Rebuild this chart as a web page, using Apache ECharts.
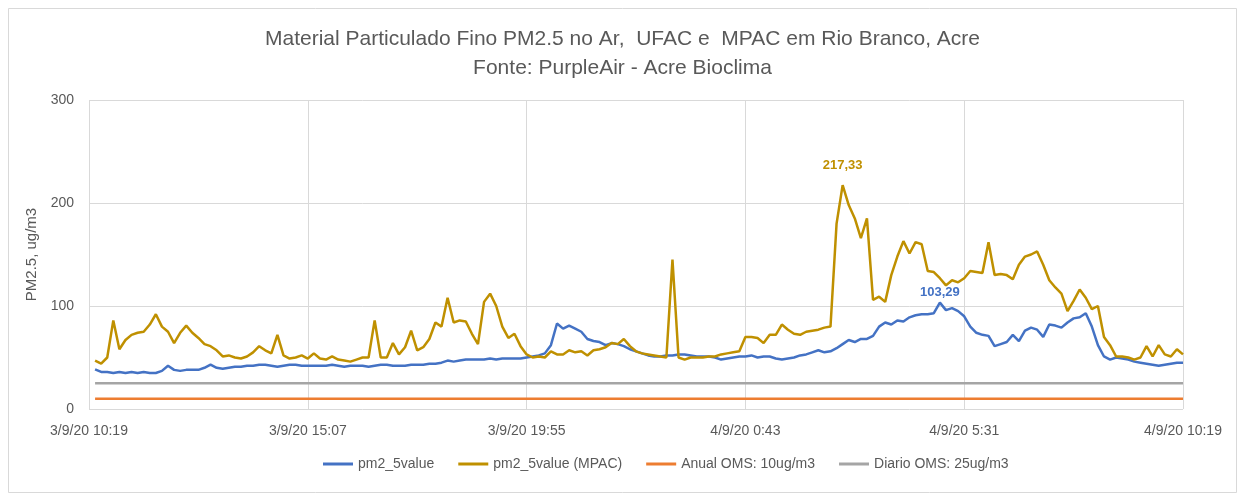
<!DOCTYPE html>
<html>
<head>
<meta charset="utf-8">
<script src="https://cdn.jsdelivr.net/npm/echarts@6/dist/echarts.min.js"></script>
<style>
  html, body { margin: 0; padding: 0; background: #fff; }
  #main { width: 1245px; height: 500px; }
</style>
</head>
<body>
<div id="main"></div>
<script>
// eixo x em minutos desde 3/9/20 10:19
var tickLabels = ['3/9/20 10:19', '3/9/20 15:07', '3/9/20 19:55', '4/9/20 0:43', '4/9/20 5:31', '4/9/20 10:19'];

var minutes = [
  8, 16, 24, 32, 40, 48, 56, 64, 72, 80, 88, 96, 104, 112, 120, 128, 136, 144, 152, 160,
  168, 176, 184, 192, 200, 208, 216, 224, 232, 240, 248, 256, 264, 272, 280, 288, 296, 304, 312, 320,
  328, 336, 344, 352, 360, 368, 376, 384, 392, 400, 408, 416, 424, 432, 440, 448, 456, 464, 472, 480,
  488, 496, 504, 512, 520, 528, 536, 544, 552, 560, 568, 576, 584, 592, 600, 608, 616, 624, 632, 640,
  648, 656, 664, 672, 680, 688, 696, 704, 712, 720, 728, 736, 744, 752, 760, 768, 776, 784, 792, 800,
  808, 816, 824, 832, 840, 848, 856, 864, 872, 880, 888, 896, 904, 912, 920, 928, 936, 944, 952, 960,
  968, 976, 984, 992, 1000, 1008, 1016, 1024, 1032, 1040, 1048, 1056, 1064, 1072, 1080, 1088, 1096, 1104, 1112, 1120,
  1128, 1136, 1144, 1152, 1160, 1168, 1176, 1184, 1192, 1200, 1208, 1216, 1224, 1232, 1240, 1248, 1256, 1264, 1272, 1280,
  1288, 1296, 1304, 1312, 1320, 1328, 1336, 1344, 1352, 1360, 1368, 1376, 1384, 1392, 1400, 1408, 1416, 1424, 1432, 1440
];

// pm2_5value (UFAC)
var ufac = [
  38.5, 36, 36, 35, 36, 35, 36, 35, 36, 35, 35, 37, 42, 38, 37, 38, 38, 38, 40, 43,
  40, 39, 40, 41, 41, 42, 42, 43, 43, 42, 41, 42, 43, 43, 42, 42, 42, 42, 42, 43,
  42, 41, 42, 42, 42, 41, 42, 43, 43, 42, 42, 42, 43, 43, 43, 44, 44, 45, 47, 46,
  47, 48, 48, 48, 48, 49, 48, 49, 49, 49, 49, 50, 51, 52, 54, 62, 83, 78, 81, 78,
  75, 68, 66, 65, 62, 64, 63, 61, 58, 56, 54, 52, 51, 51, 52, 52, 53, 53, 52, 51,
  51, 51, 50, 48, 49, 50, 51, 51, 52, 50, 51, 51, 49, 48, 49, 50, 52, 53, 55, 57,
  55, 56, 59, 63, 67, 65, 68, 68, 71, 80, 84, 82, 86, 85, 89, 91, 92, 92, 93, 103.29,
  96, 98, 95, 90, 80, 74, 72, 71, 61, 63, 65, 72, 66, 76, 79, 77, 70, 82, 81, 79,
  84, 88, 89, 93, 80, 62, 51, 48, 50, 49, 48, 46, 45, 44, 43, 42, 43, 44, 45, 45
];

// pm2_5value (MPAC)
var mpac = [
  47, 44, 50, 86, 58, 67, 72, 74, 75, 82, 92, 80, 75, 64, 74, 81, 74, 69, 63, 61,
  57, 51, 52, 50, 49, 51, 55, 61, 57, 54, 72, 52, 49, 50, 52, 49, 54, 49, 48, 51,
  48, 47, 46, 48, 50, 50, 86, 50, 50, 64, 53, 60, 76, 57, 60, 68, 84, 80, 108, 84,
  86, 85, 73, 63, 104, 112, 100, 80, 69, 73, 61, 53, 50, 51, 50, 56, 53, 53, 57, 55,
  56, 52, 57, 58, 60, 64, 63, 68, 61, 56, 54, 53, 52, 51, 50, 145, 50, 48, 50, 50,
  50, 51, 51, 53, 54, 55, 56, 70, 70, 69, 64, 72, 72, 82, 77, 73, 72, 75, 76, 77,
  79, 80, 180, 217.33, 198, 185, 166, 185, 106, 109, 104, 130, 148, 163, 151, 162, 160, 134, 133, 127,
  120, 125, 123, 127, 134, 133, 132, 162, 130, 131, 130, 126, 140, 148, 150, 153, 140, 125, 118, 112,
  95, 105, 116, 108, 97, 100, 70, 62, 51, 51, 50, 48, 50, 61, 51, 62, 53, 51, 58, 53
];

// limites OMS
var limitMinutes = [8, 1440];
var anualOMS = [10, 10];
var diarioOMS = [25, 25];

function pairs(xs, ys) {
  return xs.map(function (x, i) { return [x, ys[i]]; });
}

function maxLabel(color, dist) {
  return {
    symbol: 'circle',
    symbolSize: 0,
    data: [{ type: 'max' }],
    label: {
      show: true,
      position: 'top',
      distance: dist,
      color: color,
      fontWeight: 'bold',
      fontSize: 13,
      fontFamily: 'Liberation Sans',
      formatter: function (p) { return p.value.toFixed(2).replace('.', ','); }
    }
  };
}

var myChart = echarts.init(document.getElementById('main'), null, { renderer: 'canvas' });

var option = {
  backgroundColor: '#fff',
  animation: false,
  textStyle: { fontFamily: 'Liberation Sans', color: '#595959' },
  title: {
    text: 'Material Particulado Fino PM2.5 no Ar,  UFAC e  MPAC em Rio Branco, Acre\nFonte: PurpleAir - Acre Bioclima',
    left: 'center',
    top: 20,
    textStyle: {
      fontSize: 21,
      fontWeight: 'normal',
      color: '#595959',
      lineHeight: 29,
      fontFamily: 'Liberation Sans'
    }
  },
  graphic: [{
    type: 'rect',
    shape: { x: 8.5, y: 8.5, width: 1228, height: 484 },
    style: { fill: 'none', stroke: '#D9D9D9', lineWidth: 1 },
    silent: true
  }],
  legend: {
    bottom: 24,
    left: 318,
    itemWidth: 30,
    itemHeight: 3,
    itemGap: 24,
    icon: 'rect',
    textStyle: { fontSize: 14, color: '#595959' },
    data: ['pm2_5value', 'pm2_5value (MPAC)', 'Anual OMS: 10ug/m3', 'Diario OMS: 25ug/m3']
  },
  grid: { left: 89, right: 62, top: 100, bottom: 91 },
  xAxis: {
    type: 'value',
    min: 0,
    max: 1440,
    interval: 288,
    axisLine: { show: false },
    axisTick: { show: false },
    splitLine: { show: true, lineStyle: { color: '#D9D9D9', width: 1 } },
    axisLabel: {
      fontSize: 14,
      color: '#595959',
      margin: 15,
      showMinLabel: true,
      showMaxLabel: true,
      formatter: function (v) { return tickLabels[Math.round(v / 288)]; }
    }
  },
  yAxis: {
    type: 'value',
    min: 0,
    max: 300,
    interval: 100,
    name: 'PM2.5, ug/m3',
    nameLocation: 'middle',
    nameGap: 45,
    nameTextStyle: { fontSize: 15, color: '#595959' },
    axisLine: { show: false },
    axisTick: { show: false },
    splitLine: { lineStyle: { color: '#D9D9D9', width: 1 } },
    axisLabel: { fontSize: 14, color: '#595959', margin: 15 }
  },
  series: [
    {
      name: 'pm2_5value',
      type: 'line',
      showSymbol: false,
      color: '#4472C4',
      lineStyle: { width: 2.5, color: '#4472C4' },
      data: pairs(minutes, ufac),
      markPoint: maxLabel('#4472C4', 4)
    },
    {
      name: 'pm2_5value (MPAC)',
      type: 'line',
      showSymbol: false,
      color: '#BF9000',
      lineStyle: { width: 2.5, color: '#BF9000' },
      data: pairs(minutes, mpac),
      markPoint: maxLabel('#BF9000', 13)
    },
    {
      name: 'Anual OMS: 10ug/m3',
      type: 'line',
      showSymbol: false,
      color: '#ED7D31',
      lineStyle: { width: 2.5, color: '#ED7D31' },
      data: pairs(limitMinutes, anualOMS)
    },
    {
      name: 'Diario OMS: 25ug/m3',
      type: 'line',
      showSymbol: false,
      color: '#A5A5A5',
      lineStyle: { width: 2.5, color: '#A5A5A5' },
      data: pairs(limitMinutes, diarioOMS)
    }
  ]
};

myChart.setOption(option);
</script>
</body>
</html>
